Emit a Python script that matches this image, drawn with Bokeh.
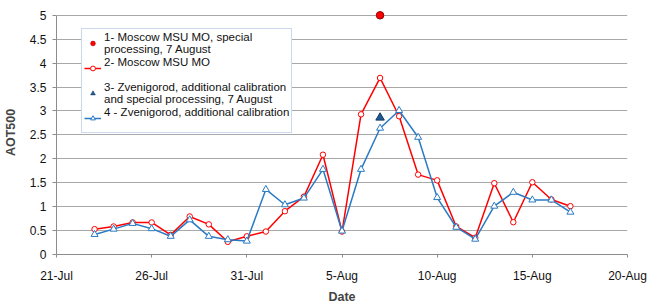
import pandas as pd
from bokeh.plotting import figure
from bokeh.models import (Range1d, FixedTicker, CustomJSTickFormatter, Legend,
                          LegendItem, ColumnDataSource)
from bokeh.embed import file_html
from bokeh.resources import INLINE

# ---- data -------------------------------------------------------------
dates = ["2010-07-23", "2010-07-24", "2010-07-25", "2010-07-26", "2010-07-27",
         "2010-07-28", "2010-07-29", "2010-07-30", "2010-07-31", "2010-08-01",
         "2010-08-02", "2010-08-03", "2010-08-04", "2010-08-05", "2010-08-06",
         "2010-08-07", "2010-08-08", "2010-08-09", "2010-08-10", "2010-08-11",
         "2010-08-12", "2010-08-13", "2010-08-14", "2010-08-15", "2010-08-16",
         "2010-08-17"]
moscow = [0.53, 0.585, 0.67, 0.67, 0.41, 0.795, 0.63, 0.265, 0.38, 0.48,
          0.905, 1.21, 2.085, 0.48, 2.93, 3.69, 2.89, 1.67, 1.55, 0.585,
          0.35, 1.49, 0.675, 1.51, 1.15, 1.01]
zvenigorod = [0.42, 0.53, 0.65, 0.54, 0.38, 0.725, 0.38, 0.31, 0.28, 1.36,
              1.04, 1.18, 1.78, 0.49, 1.78, 2.64, 3.01, 2.45, 1.19, 0.57,
              0.32, 1.01, 1.30, 1.14, 1.14, 0.885]
special_date = ["2010-08-07"]
moscow_special = [5.0]
zvenigorod_special = [2.86]

x_tick_dates = ["2010-07-21", "2010-07-26", "2010-07-31", "2010-08-05",
                "2010-08-10", "2010-08-15", "2010-08-20"]
y_ticks = [0, 0.5, 1, 1.5, 2, 2.5, 3, 3.5, 4, 4.5, 5]

labels = ["1- Moscow MSU MO, special\nprocessing, 7 August",
          "2- Moscow MSU MO\n ",
          "3- Zvenigorod, additional calibration\nand special processing, 7 August",
          "4 - Zvenigorod, additional calibration\n "]

# ---- figure -----------------------------------------------------------
FONT = "Liberation Sans"
RED = "#FF0000"
BLUE = "#2A7BC4"

src = ColumnDataSource(dict(x=pd.to_datetime(dates), m=moscow, z=zvenigorod))
sp = ColumnDataSource(dict(x=pd.to_datetime(special_date), m=moscow_special,
                           z=zvenigorod_special))

p = figure(width=647, height=306, output_backend="svg", toolbar_location=None,
           x_axis_type="datetime",
           x_range=Range1d(pd.Timestamp(x_tick_dates[0]), pd.Timestamp(x_tick_dates[-1])),
           y_range=Range1d(0, 5.1),
           min_border_left=56, min_border_right=20, min_border_top=10,
           min_border_bottom=52)
p.outline_line_color = None
p.background_fill_color = "white"

# y axis
p.yaxis.bounds = (0, 5)
p.yaxis.ticker = FixedTicker(ticks=y_ticks)
p.yaxis.formatter = CustomJSTickFormatter(code="return String(Math.round(tick*10)/10);")
p.yaxis.axis_label = "AOT500"
p.yaxis.axis_label_text_font = FONT
p.yaxis.axis_label_text_font_style = "bold"
p.yaxis.axis_label_text_font_size = "12.5px"
p.yaxis.axis_label_standoff = 9
p.yaxis.major_label_text_font = FONT
p.yaxis.major_label_text_font_size = "12px"
p.yaxis.major_label_text_color = "#111111"
p.yaxis.major_label_standoff = 6
p.yaxis.major_tick_out = 4
p.yaxis.major_tick_in = 0
p.yaxis.minor_tick_out = 0
p.yaxis.minor_tick_in = 0
p.yaxis.axis_line_color = "#8C8C8C"
p.yaxis.major_tick_line_color = "#8C8C8C"

# x axis
x_ticks = [pd.Timestamp(t).value / 1e6 for t in x_tick_dates]
p.xaxis.ticker = FixedTicker(ticks=x_ticks)
p.xaxis.formatter = CustomJSTickFormatter(code="""
const m = ['Jan','Feb','Mar','Apr','May','Jun','Jul','Aug','Sep','Oct','Nov','Dec'];
const d = new Date(tick);
return d.getUTCDate() + '-' + m[d.getUTCMonth()];
""")
p.xaxis.axis_label = "Date"
p.xaxis.axis_label_text_font = FONT
p.xaxis.axis_label_text_font_style = "bold"
p.xaxis.axis_label_text_font_size = "12.5px"
p.xaxis.axis_label_standoff = 4
p.xaxis.major_label_text_font = FONT
p.xaxis.major_label_text_font_size = "12px"
p.xaxis.major_label_text_color = "#111111"
p.xaxis.major_label_standoff = 11
p.xaxis.major_tick_out = 3
p.xaxis.major_tick_in = 0
p.xaxis.minor_tick_out = 0
p.xaxis.minor_tick_in = 0
p.xaxis.axis_line_color = "#8C8C8C"
p.xaxis.major_tick_line_color = "#8C8C8C"

p.xgrid.grid_line_color = None
p.ygrid.ticker = FixedTicker(ticks=y_ticks)
p.ygrid.grid_line_color = "#A8A8A8"
p.ygrid.grid_line_width = 1

# series
m_line = p.line("x", "m", source=src, line_color=RED, line_width=1.5)
m_pts = p.scatter("x", "m", source=src, marker="circle", size=5.5,
                  fill_color="white", line_color=RED, line_width=1)
z_line = p.line("x", "z", source=src, line_color=BLUE, line_width=1.5)
z_pts = p.scatter("x", "z", source=src, marker="triangle", size=7,
                  fill_color="white", line_color=BLUE, line_width=1)
# small copies (legend keys), hidden beneath the larger special-point markers
m_sp_key = p.scatter("x", "m", source=sp, marker="circle", size=4,
                     fill_color=RED, line_color="#B00000", line_width=0.5)
z_sp_key = p.scatter("x", "z", source=sp, marker="triangle", size=5,
                     fill_color="#1F5A96", line_color="#12385E", line_width=0.5)
m_sp = p.scatter("x", "m", source=sp, marker="circle", size=7.5,
                 fill_color=RED, line_color="#8B0000", line_width=1)
z_sp = p.scatter("x", "z", source=sp, marker="triangle", size=8.5,
                 fill_color="#1F5A96", line_color="#12385E", line_width=1)

legend = Legend(items=[
    LegendItem(label=labels[0], renderers=[m_sp_key]),
    LegendItem(label=labels[1], renderers=[m_line, m_pts]),
    LegendItem(label=labels[2], renderers=[z_sp_key]),
    LegendItem(label=labels[3], renderers=[z_line, z_pts]),
], location=(25, 121))
legend.label_text_font = FONT
legend.label_text_font_size = "11.5px"
legend.label_text_line_height = 1.1
legend.label_text_color = "#111111"
legend.label_height = 12
legend.label_standoff = 3
legend.glyph_width = 17
legend.glyph_height = 12
legend.spacing = 1
legend.padding = 2
legend.margin = 0
legend.border_line_color = "#95B3D7"
legend.border_line_width = 1
legend.background_fill_color = "white"
legend.background_fill_alpha = 1
p.add_layout(legend)

open("out.html", "w").write(file_html(p, INLINE))
